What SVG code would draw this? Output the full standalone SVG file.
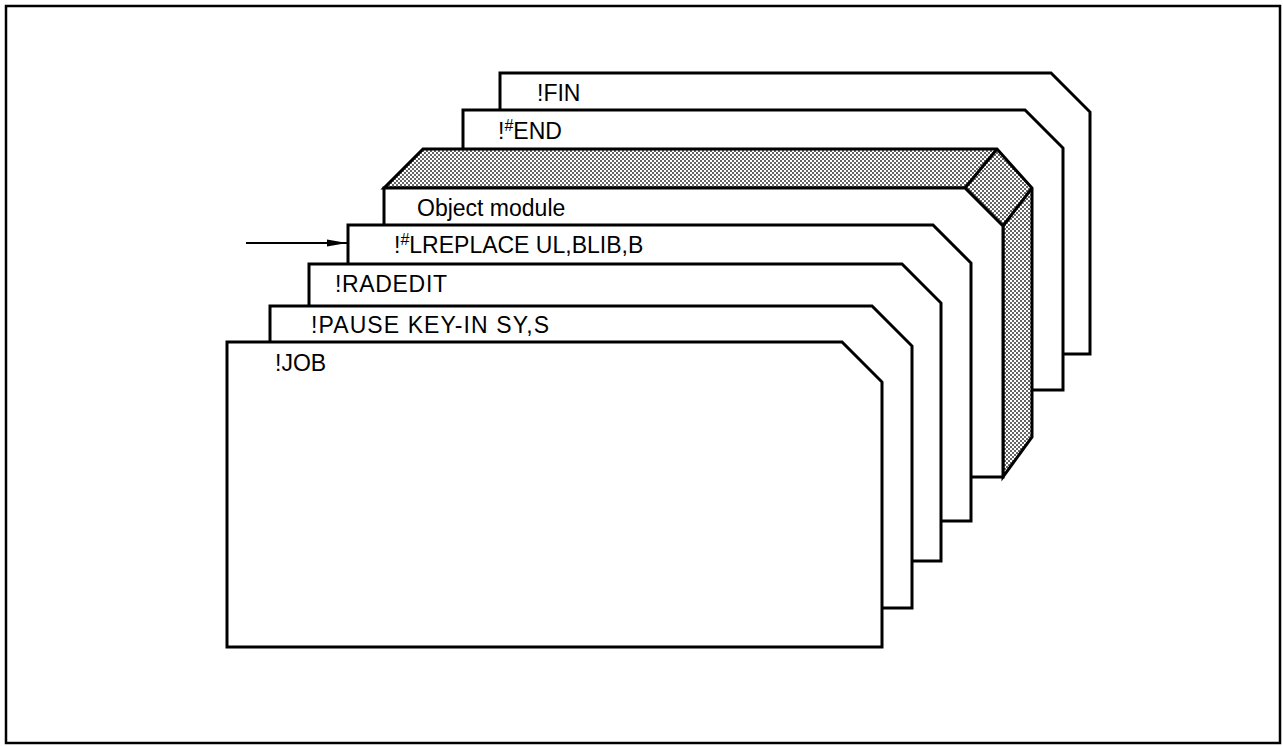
<svg xmlns="http://www.w3.org/2000/svg" width="1283" height="746" viewBox="0 0 1283 746">
<style>
.card{fill:#fff;stroke:#000;stroke-width:3;stroke-linejoin:miter}
.shade{fill:url(#dots);stroke:#000;stroke-width:3;stroke-linejoin:miter}
.edge{fill:none;stroke:#000;stroke-width:3}
.lbl{font-family:"Liberation Sans",Arial,sans-serif;font-size:23px;fill:#000}
.sup{font-size:16px}
.frame{fill:none;stroke:#000;stroke-width:2.5}
</style>
<defs>
<pattern id="dots" width="4" height="4" patternUnits="userSpaceOnUse">
<rect width="4" height="4" fill="#fff"/>
<circle cx="1" cy="1" r="0.95" fill="#222"/>
<circle cx="3" cy="3" r="0.95" fill="#222"/>
</pattern>
<marker id="ah" markerWidth="20" markerHeight="8" refX="20" refY="4" orient="auto" markerUnits="userSpaceOnUse">
<path d="M0,0.6 L20,4 L0,7.4 Z" fill="#000"/>
</marker>
</defs>
<rect class="frame" x="6" y="6" width="1274" height="737"/>
<g id="card-fin">
<path class="card" d="M500,73 H1051 L1090,112 V354 H500 Z"/>
<text class="lbl" x="537" y="101">!FIN</text>
</g>
<g id="card-end">
<path class="card" d="M463,110 H1025 L1063,148 V390 H463 Z"/>
<text class="lbl" x="498" y="139">!<tspan class="sup" dy="-8">#</tspan><tspan dy="8">END</tspan></text>
</g>
<g id="card-object-module">
<path class="shade" d="M384,188 L423,149 H997 L1032,188 V437 L1003,477 V226 L965,188 Z"/>
<path class="edge" d="M965,188 L997,149 M1003,226 L1032,188"/>
<path class="card" d="M384,188 H965 L1003,226 V477 H384 Z"/>
<text class="lbl" x="417" y="216">Object module</text>
</g>
<g id="card-lreplace">
<path class="card" d="M348,225 H933 L971,263 V521 H348 Z"/>
<text class="lbl" x="394" y="253">!<tspan class="sup" dy="-8">#</tspan><tspan dy="8">LREPLACE UL,BLIB,B</tspan></text>
</g>
<g id="card-radedit">
<path class="card" d="M309,264 H902 L941,303 V561 H309 Z"/>
<text class="lbl" x="335" y="292" textLength="112" lengthAdjust="spacing">!RADEDIT</text>
</g>
<g id="card-pause">
<path class="card" d="M270,306 H872 L912,346 V608 H270 Z"/>
<text class="lbl" x="311" y="333" textLength="238" lengthAdjust="spacing">!PAUSE KEY-IN SY,S</text>
</g>
<g id="card-job">
<path class="card" d="M227,342 H842 L882,382 V647 H227 Z"/>
<text class="lbl" x="275" y="371">!JOB</text>
</g>
<g id="connectors">
<line x1="246" y1="243" x2="347" y2="243" stroke="#000" stroke-width="2" marker-end="url(#ah)"/>
</g>
</svg>
